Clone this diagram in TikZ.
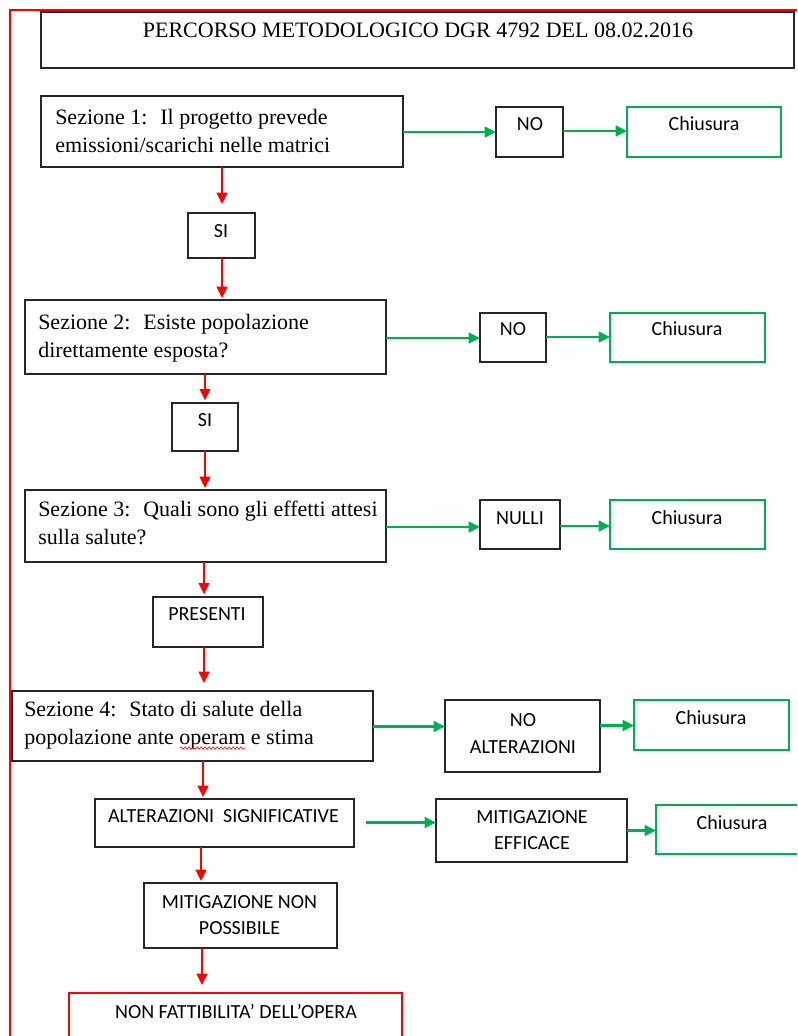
\documentclass[tikz,border=0pt]{standalone}
\usepackage{fontspec}
\setmainfont{Liberation Serif}
\newfontfamily\sansf{Carlito}
\usetikzlibrary{arrows.meta,decorations.pathmorphing}
\definecolor{gr}{RGB}{0,176,80}
\definecolor{rd}{RGB}{255,0,0}
\newcommand{\pbox}[6]{\node[#2,inner sep=0pt,outer sep=0pt,minimum width={(#5-#3)*0.75pt},minimum height={(#6-#4)*0.75pt},anchor=north west] (#1) at (#3,#4) {};}
\begin{document}
\begin{tikzpicture}[x=0.75pt,y=-0.75pt,
 bbox/.style={draw=black!85,line width=1.35pt},
 gbox/.style={draw=gr,line width=1.2pt},
 rbox/.style={draw=rd,line width=1.3pt},
 sertxt/.style={font=\fontsize{16.5}{21}\selectfont,inner sep=0pt,align=left,text=black},
 santxt/.style={font=\sansf\fontsize{15}{20}\selectfont,inner sep=0pt,align=center,text=black},
 rarr/.style={draw=rd,line width=1.4pt,-{Triangle[length=8.5pt,width=8pt]}},
 garr/.style={draw=gr,line width=1.9pt,-{Triangle[length=8.5pt,width=8pt]}}]
\useasboundingbox (0,0) rectangle (797,1036);
\clip (0,0) rectangle (797,1036);
% outer red frame
\draw[rd,line width=1.5pt] (797,10) -- (10,10) -- (10,1040);
% boxes
\pbox{title}{bbox}{41}{12}{794}{68}
\pbox{s1}{bbox}{41}{96}{403}{167}
\pbox{si1}{bbox}{188}{213}{255}{258}
\pbox{s2}{bbox}{25}{300}{386}{374}
\pbox{si2}{bbox}{172}{403}{238}{451}
\pbox{s3}{bbox}{25}{490}{386}{562}
\pbox{pres}{bbox}{153}{597}{263}{647}
\pbox{s4}{bbox}{12}{691}{373}{761}
\pbox{alt}{bbox}{95}{799}{354}{847}
\pbox{mnp}{bbox}{144}{883}{337}{948}
\pbox{nf}{rbox}{69}{993}{402}{1050}
\pbox{no1}{bbox}{496}{107}{563}{157}
\pbox{ch1}{gbox}{627}{107}{781}{157}
\pbox{no2}{bbox}{480}{313}{546}{362}
\pbox{ch2}{gbox}{610}{313}{765}{362}
\pbox{nul}{bbox}{480}{500}{560}{549}
\pbox{ch3}{gbox}{610}{500}{765}{549}
\pbox{noa}{bbox}{445}{700}{600}{772}
\pbox{ch4}{gbox}{634}{700}{789}{750}
\pbox{mef}{bbox}{436}{799}{627}{862}
\pbox{ch5}{gbox}{656}{805}{808}{854}
% texts
\node[sertxt] (ttitle) at (418,30) {PERCORSO METODOLOGICO DGR 4792 DEL 08.02.2016};
\node[sertxt,anchor=west] (ts1) at (55,131) {Sezione 1:~ Il progetto prevede\\emissioni/scarichi nelle matrici};
\node[sertxt,anchor=west] (ts2) at (38,338) {Sezione 2:~ Esiste popolazione\\direttamente esposta?};
\node[sertxt,anchor=west] (ts3) at (38,523) {Sezione 3:~ Quali sono gli effetti attesi\\sulla salute?};
\node[sertxt,anchor=west] (ts4) at (24,725) {Sezione 4:~ Stato di salute della\\popolazione ante operam e stima};
\node[santxt] (tsi1) at (221,231) {SI};
\node[santxt] (tsi2) at (205,420) {SI};
\node[santxt] (tpres) at (207,614) {PRESENTI};
\node[santxt] (talt) at (223.5,816) {ALTERAZIONI~ SIGNIFICATIVE};
\node[santxt] (tmnp) at (239.5,915) {MITIGAZIONE NON\\POSSIBILE};
\node[santxt] (tnf) at (236,1012) {NON FATTIBILITA’ DELL’OPERA};
\node[santxt] (tno1) at (530,124) {NO};
\node[santxt] (tch1) at (704,124) {Chiusura};
\node[santxt] (tno2) at (513,329) {NO};
\node[santxt] (tch2) at (687,329) {Chiusura};
\node[santxt] (tnul) at (520,518) {NULLI};
\node[santxt] (tch3) at (687,518) {Chiusura};
\node[santxt] (tnoa) at (523,733.5) {NO\\ALTERAZIONI};
\node[santxt] (tch4) at (711,718) {Chiusura};
\node[santxt] (tmef) at (532,830) {MITIGAZIONE\\EFFICACE};
\node[santxt] (tch5) at (732,823) {Chiusura};
% spell-check wave
\draw[rd,line width=0.5pt,decorate,decoration={snake,amplitude=0.8pt,segment length=3pt}] (180,748) -- (245,748);
% red arrows
\draw[rarr,shorten >=6.75pt] (s1.south -| 222,0) -- (si1.north -| 222,0);
\draw[rarr,shorten >=1.5pt] (si1.south -| 222,0) -- (s2.north -| 222,0);
\draw[rarr,shorten >=2pt] (s2.south -| 205,0) -- (si2.north -| 205,0);
\draw[rarr,shorten >=1.5pt] (si2.south -| 205,0) -- (s3.north -| 205,0);
\draw[rarr,shorten >=2pt] (s3.south -| 204,0) -- (pres.north -| 204,0);
\draw[rarr,shorten >=6pt] (pres.south -| 204,0) -- (s4.north -| 204,0);
\draw[rarr,shorten >=1.5pt] (s4.south -| 203,0) -- (alt.north -| 203,0);
\draw[rarr,shorten >=1.5pt] (alt.south -| 201,0) -- (mnp.north -| 201,0);
\draw[rarr,shorten >=6pt] (mnp.south -| 202,0) -- (nf.north -| 202,0);
% green arrows
\draw[garr] (s1.east |- 0,132) -- (no1.west |- 0,132);
\draw[garr] (no1.east |- 0,131) -- (ch1.west |- 0,131);
\draw[garr] (s2.east |- 0,338) -- (no2.west |- 0,338);
\draw[garr] (no2.east |- 0,337) -- (ch2.west |- 0,337);
\draw[garr] (s3.east |- 0,527) -- (nul.west |- 0,527);
\draw[garr] (nul.east |- 0,526) -- (ch3.west |- 0,526);
\draw[garr] (s4.east |- 0,726.5) -- (noa.west |- 0,726.5);
\draw[garr] (noa.east |- 0,725.5) -- (ch4.west |- 0,725.5);
\coordinate (g5start) at (365.5,822.5);
\draw[garr] (g5start) -- (mef.west |- g5start);
\draw[garr] (mef.east |- 0,830.5) -- (ch5.west |- 0,830.5);
\end{tikzpicture}
\end{document}
